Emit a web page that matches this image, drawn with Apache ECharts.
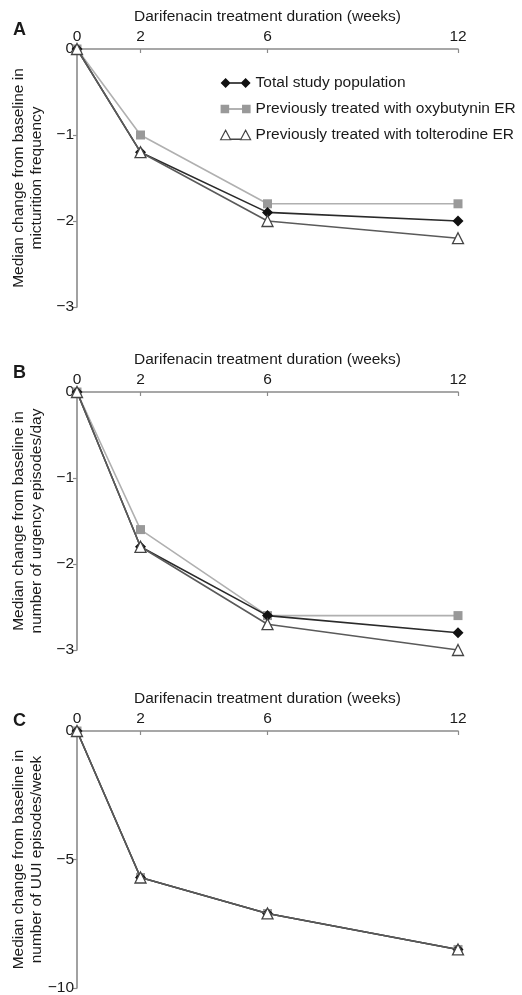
<!DOCTYPE html>
<html>
<head>
<meta charset="utf-8">
<script src="https://cdn.jsdelivr.net/npm/echarts@6/dist/echarts.min.js"></script>
<style>html,body{margin:0;padding:0;background:#fff}#c{width:522px;height:995px}</style>
</head>
<body>
<div id="c"></div>
<script>
const weeks = [0, 2, 6, 12];
const xTicks = [0, 2, 6, 12];
const seriesNames = ['Total study population', 'Previously treated with oxybutynin ER', 'Previously treated with tolterodine ER'];
// Panel A: micturition frequency
const aTotal = [0, -1.2, -1.9, -2.0];
const aOxy = [0, -1.0, -1.8, -1.8];
const aTolt = [0, -1.2, -2.0, -2.2];
// Panel B: urgency episodes/day
const bTotal = [0, -1.8, -2.6, -2.8];
const bOxy = [0, -1.6, -2.6, -2.6];
const bTolt = [0, -1.8, -2.7, -3.0];
// Panel C: UUI episodes/week
const cTotal = [0, -5.7, -7.1, -8.5];
const cOxy = [0, -5.7, -7.1, -8.5];
const cTolt = [0, -5.7, -7.1, -8.5];
const panelLabels = ['A', 'B', 'C'];
const yTitles = ['Median change from baseline in\nmicturition frequency',
                 'Median change from baseline in\nnumber of urgency episodes/day',
                 'Median change from baseline in\nnumber of UUI episodes/week'];
const yRanges = [[-3, 0, 1], [-3, 0, 1], [-10, 0, 5]];
const xTitle = 'Darifenacin treatment duration (weeks)';

const FONT = 'Liberation Sans, Arial, sans-serif';
const FS = 15.5;
const TXT = '#1a1a1a';
const AX = '#8a8a8a';
const grids = [
  {left: 77, top: 49, width: 381, height: 258, outerBoundsMode: 'none', containLabel: false},
  {left: 77, top: 392, width: 381, height: 258, outerBoundsMode: 'none', containLabel: false},
  {left: 77, top: 731, width: 381, height: 257, outerBoundsMode: 'none', containLabel: false}
];
const fmt = v => v === 0 ? '0' : (v < 0 ? '\u2212' + Math.abs(v) : String(v));

const styles = [
  {symbol: 'diamond', symbolSize: 11, line: '#2a2a2a', item: {color: '#111', borderColor: '#111', borderWidth: 0}, z: 3},
  {symbol: 'rect', symbolSize: 9, line: '#b0b0b0', item: {color: '#999', borderColor: '#999', borderWidth: 0}, z: 2},
  {symbol: 'triangle', symbolSize: 11, line: '#5a5a5a', item: {color: '#fff', borderColor: '#444', borderWidth: 1.3}, z: 4}
];
const data = [[aTotal, aOxy, aTolt], [bTotal, bOxy, bTolt], [cTotal, cOxy, cTolt]];

const xAxis = [], yAxis = [], series = [], title = [];
for (let p = 0; p < 3; p++) {
  xAxis.push({
    type: 'value', gridIndex: p, position: 'top', min: 0, max: 12,
    name: xTitle, nameLocation: 'middle', nameGap: 24, nameMoveOverlap: false,
    nameTextStyle: {fontFamily: FONT, fontSize: FS, color: TXT},
    axisLine: {show: true, onZero: false, lineStyle: {color: AX, width: 1.6}},
    axisTick: {show: true, inside: true, length: 4, customValues: xTicks, lineStyle: {color: AX, width: 1.2}},
    axisLabel: {customValues: xTicks, fontFamily: FONT, fontSize: FS, color: TXT, margin: 4},
    splitLine: {show: false}
  });
  yAxis.push({
    type: 'value', gridIndex: p, min: yRanges[p][0], max: yRanges[p][1], interval: yRanges[p][2],
    name: yTitles[p], nameLocation: 'middle', nameGap: 31, nameRotate: 90, nameMoveOverlap: false,
    nameTextStyle: {fontFamily: FONT, fontSize: FS, color: TXT, lineHeight: 18.5, align: 'center'},
    axisLine: {show: true, onZero: false, lineStyle: {color: AX, width: 1.6}},
    axisTick: {show: true, length: 4, lineStyle: {color: AX, width: 1.2}},
    axisLabel: {fontFamily: FONT, fontSize: FS, color: TXT, margin: 3, formatter: fmt},
    splitLine: {show: false}
  });
  title.push({text: panelLabels[p], left: 8, top: [16, 359, 707][p],
    textStyle: {fontFamily: FONT, fontSize: 18, fontWeight: 'bold', color: TXT}});
  const order = [1, 0, 2];
  order.forEach(i => {
    const s = styles[i];
    series.push({
      type: 'line', name: seriesNames[i], xAxisIndex: p, yAxisIndex: p,
      data: weeks.map((w, k) => [w, data[p][i][k]]),
      symbol: s.symbol, symbolSize: s.symbolSize, showAllSymbol: true, clip: false,
      lineStyle: {color: s.line, width: 1.6}, itemStyle: s.item, z: s.z,
      emphasis: {disabled: true}, animation: false
    });
  });
}

const diaPath = 'path://M0 5L5 0L10 5L5 10ZM9 4.3L21 4.3L21 5.7L9 5.7ZM20 5L25 0L30 5L25 10Z';
const sqPath = 'path://M1 1L9 1L9 9L1 9ZM9 4.3L21 4.3L21 5.7L9 5.7ZM21 1L29 1L29 9L21 9Z';
const triPath = 'path://M0 10L5 0.5L10 10ZM10 9.4L20 9.4L20 9.6L10 9.6ZM20 10L25 0.5L30 10Z';

const option = {
  backgroundColor: '#fff',
  animation: false,
  title: title,
  grid: grids,
  xAxis: xAxis,
  yAxis: yAxis,
  legend: {
    orient: 'vertical', left: 215, top: 70, itemGap: 10, itemWidth: 30, itemHeight: 11,
    textStyle: {fontFamily: FONT, fontSize: FS, color: TXT},
    data: [
      {name: seriesNames[0], icon: diaPath, itemStyle: {color: '#111'}},
      {name: seriesNames[1], icon: sqPath, itemStyle: {color: '#999'}},
      {name: seriesNames[2], icon: triPath, itemStyle: {color: '#fff', borderColor: '#444', borderWidth: 1.2}}
    ],
    selectedMode: false
  },
  series: series
};
const chart = echarts.init(document.getElementById('c'), null, {renderer: 'canvas'});
chart.setOption(option);
</script>
</body>
</html>
